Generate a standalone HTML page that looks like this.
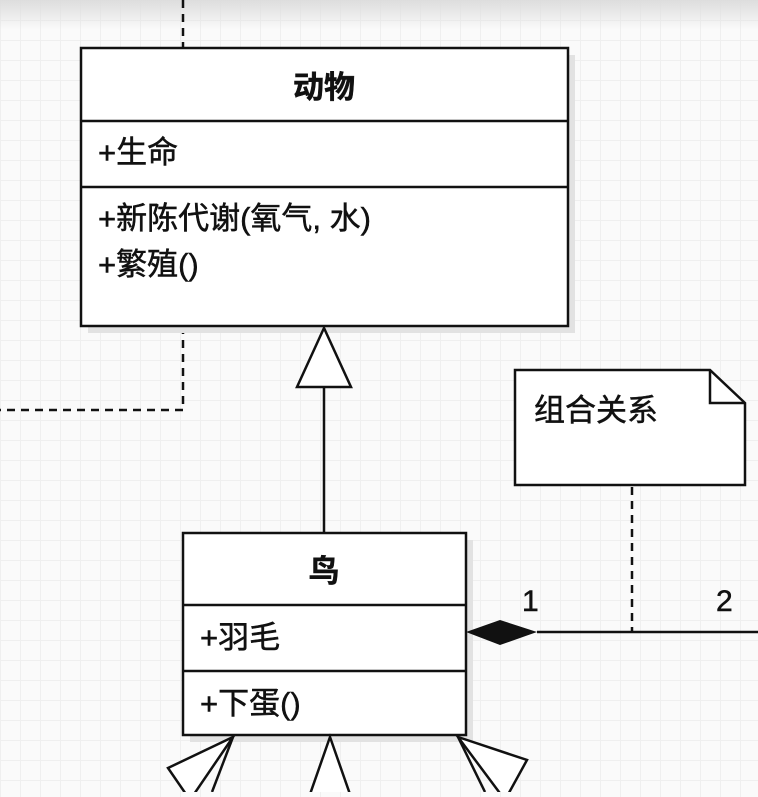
<!DOCTYPE html>
<html><head><meta charset="utf-8"><style>
html,body{margin:0;padding:0;}
body{width:758px;height:792px;overflow:hidden;background:#fafafa;
background-image:linear-gradient(#efefef 1px,transparent 1px),linear-gradient(90deg,#efefef 1px,transparent 1px);background-size:20px 20px;}
text{font-family:"Liberation Sans","Noto Sans CJK SC",sans-serif;fill:#111;stroke:#111;stroke-width:0.5;}
</style></head><body>
<svg width="758" height="792" xmlns="http://www.w3.org/2000/svg">
<defs><linearGradient id="tg" x1="0" y1="0" x2="0" y2="1"><stop offset="0" stop-color="#ddd"/><stop offset="1" stop-color="#ddd" stop-opacity="0"/></linearGradient></defs>
<rect x="0" y="0" width="758" height="30" fill="url(#tg)"/>
<g stroke="#111" stroke-width="2.5" stroke-dasharray="8,6" fill="none">
<path d="M183 0 V48"/>
<path d="M183 326 V410 H0"/>
<path d="M632 487 V632"/>
</g>
<rect x="88" y="55" width="487" height="278" fill="#e2e2e2"/>
<rect x="190" y="540" width="283" height="202" fill="#e2e2e2"/>
<rect x="81" y="48" width="487" height="278" fill="#fff" stroke="#111" stroke-width="2.5"/>
<line x1="81" y1="121" x2="568" y2="121" stroke="#111" stroke-width="2.5"/>
<line x1="81" y1="187" x2="568" y2="187" stroke="#111" stroke-width="2.5"/>
<text x="324" y="98" font-size="31" font-weight="bold" text-anchor="middle">动物</text>
<text x="98" y="163" font-size="31">+生命</text>
<text x="98" y="229" font-size="31">+新陈代谢(氧气, 水)</text>
<text x="98" y="275" font-size="31">+繁殖()</text>
<line x1="324" y1="387" x2="324" y2="533" stroke="#111" stroke-width="2.5"/>
<polygon points="324,328 297,387 351,387" fill="#fff" stroke="#111" stroke-width="2.5"/>
<path d="M515 370 H710 L745 403 V485 H515 Z" fill="#fff" stroke="#111" stroke-width="2.5"/>
<path d="M710 370 V403 H745" fill="none" stroke="#111" stroke-width="2.5"/>
<text x="534" y="421" font-size="31">组合关系</text>
<rect x="183" y="533" width="283" height="202" fill="#fff" stroke="#111" stroke-width="2.5"/>
<line x1="183" y1="605" x2="466" y2="605" stroke="#111" stroke-width="2.5"/>
<line x1="183" y1="671" x2="466" y2="671" stroke="#111" stroke-width="2.5"/>
<text x="324" y="582" font-size="31" font-weight="bold" text-anchor="middle">鸟</text>
<text x="200" y="648" font-size="31">+羽毛</text>
<text x="200" y="714" font-size="31">+下蛋()</text>
<line x1="537" y1="632" x2="758" y2="632" stroke="#111" stroke-width="2.5"/>
<polygon points="466,632 500,620 537,632 500,645" fill="#111"/>
<text x="522" y="611" font-size="30">1</text>
<text x="716" y="611" font-size="30">2</text>
<g fill="#fff" stroke="#111" stroke-width="2.5">
<polygon points="233,737 168,768 190,800"/>
<line x1="233" y1="737" x2="212" y2="792"/>
<polygon points="330,737 308,800 352,800"/>
<polygon points="458,737 527,760 505,800"/>
<line x1="458" y1="737" x2="485" y2="792"/>
</g>
</svg>
</body></html>
